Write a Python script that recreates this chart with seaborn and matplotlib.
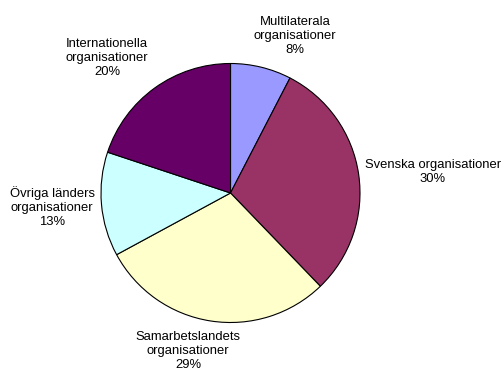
import matplotlib
matplotlib.use("Agg")
import matplotlib.pyplot as plt
import seaborn as sns

# data
categories = ["Multilaterala\norganisationer", "Svenska organisationer",
              "Samarbetslandets\norganisationer", "Övriga länders\norganisationer",
              "Internationella\norganisationer"]
shares = [7.6, 30.2, 29.3, 13.0, 19.9]
colors = ["#9999FF", "#993366", "#FFFFCC", "#CCFFFF", "#660066"]

# label block centres in pixels (x, y from top)
label_px = [(295, 36), (433, 172), (188, 351), (52, 207), (107, 58)]

sns.set_style("white")
plt.rcParams['font.family'] = ['Liberation Sans', 'DejaVu Sans']

W, H = 503, 373
cx, cy, R = 230.5, 193.0, 129.5

fig = plt.figure(figsize=(W / 100, H / 100), dpi=100)
ax = fig.add_axes([0, 0, 1, 1])
ax.pie(shares, colors=colors, startangle=90, counterclock=False, radius=1,
       wedgeprops=dict(edgecolor="black", linewidth=0.8))

for cat, val, (px, py) in zip(categories, shares, label_px):
    ax.text((px - cx) / R, (cy - py) / R, f"{cat}\n{round(val)}%",
            ha="center", va="center", fontsize=9.4, linespacing=1.2,
            color="black")

ax.set_xlim(-cx / R, (W - cx) / R)
ax.set_ylim(-(H - cy) / R, cy / R)
ax.set_aspect("equal")
ax.axis("off")

fig.savefig("out.png", dpi=100)
